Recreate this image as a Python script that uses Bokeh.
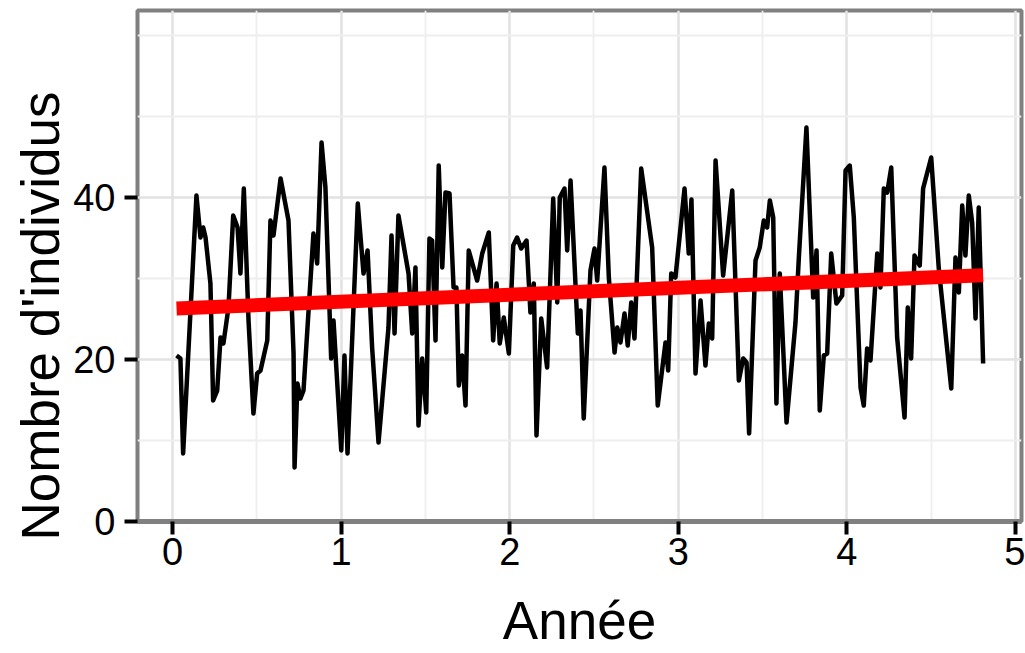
from bokeh.plotting import figure
from bokeh.models import FixedTicker, Range1d, Title
from bokeh.embed import file_html
from bokeh.resources import INLINE

# ---- data ----
annee = [
    0.024, 0.047, 0.063, 0.117, 0.142, 0.166, 0.182, 0.196, 0.225, 0.241,
    0.265, 0.285, 0.302, 0.332, 0.360, 0.386, 0.403, 0.423, 0.451, 0.480,
    0.502, 0.522, 0.562, 0.581, 0.599, 0.641, 0.688, 0.718, 0.724, 0.741,
    0.759, 0.777, 0.836, 0.858, 0.884, 0.907, 0.941, 0.955, 1.001, 1.020,
    1.038, 1.072, 1.099, 1.133, 1.157, 1.184, 1.222, 1.281, 1.299, 1.317,
    1.340, 1.400, 1.422, 1.441, 1.459, 1.481, 1.505, 1.524, 1.540, 1.560,
    1.579, 1.600, 1.619, 1.643, 1.667, 1.684, 1.698, 1.718, 1.738, 1.757,
    1.807, 1.837, 1.876, 1.902, 1.922, 1.941, 1.965, 1.995, 2.021, 2.044,
    2.068, 2.100, 2.123, 2.143, 2.159, 2.187, 2.222, 2.258, 2.282, 2.297,
    2.325, 2.341, 2.361, 2.404, 2.420, 2.439, 2.479, 2.503, 2.519, 2.562,
    2.588, 2.622, 2.638, 2.657, 2.681, 2.700, 2.721, 2.740, 2.780, 2.845,
    2.878, 2.924, 2.940, 2.958, 2.983, 3.037, 3.062, 3.078, 3.102, 3.132,
    3.161, 3.181, 3.201, 3.221, 3.266, 3.320, 3.359, 3.385, 3.405, 3.420,
    3.458, 3.483, 3.507, 3.527, 3.543, 3.563, 3.582, 3.602, 3.642, 3.695,
    3.715, 3.760, 3.800, 3.820, 3.839, 3.863, 3.883, 3.907, 3.938, 3.972,
    3.992, 4.017, 4.041, 4.081, 4.100, 4.120, 4.140, 4.180, 4.199, 4.219,
    4.239, 4.263, 4.298, 4.342, 4.361, 4.381, 4.401, 4.432, 4.452, 4.500,
    4.545, 4.619, 4.644, 4.664, 4.684, 4.703, 4.723, 4.743, 4.763, 4.782,
    4.808,
]
individus = [
    20.49, 20.12, 8.40, 30.12, 40.25, 35.06, 36.30, 35.06, 29.38, 14.94,
    16.17, 22.72, 21.98, 26.42, 37.78, 36.30, 30.62, 41.11, 24.81, 13.33,
    18.27, 18.64, 22.35, 37.16, 35.31, 42.35, 37.16, 20.74, 6.67, 17.04,
    15.19, 16.17, 35.56, 31.85, 46.79, 41.23, 20.12, 24.81, 8.77, 20.49,
    8.40, 25.68, 39.26, 30.62, 33.46, 21.48, 9.75, 23.95, 35.31, 23.21,
    37.78, 30.62, 23.21, 31.36, 11.85, 20.12, 13.46, 34.94, 34.69, 22.35,
    43.95, 31.36, 40.62, 40.49, 28.89, 28.89, 16.79, 20.49, 14.32, 33.46,
    29.75, 33.09, 35.68, 22.35, 29.38, 21.98, 25.19, 20.74, 34.07, 35.06,
    33.70, 34.69, 25.80, 29.38, 10.62, 25.06, 19.01, 39.88, 27.04, 40.00,
    41.11, 33.46, 42.10, 23.21, 26.05, 12.72, 30.99, 33.70, 29.75, 43.70,
    30.12, 20.86, 23.95, 22.10, 25.68, 21.73, 27.04, 22.59, 43.58, 33.83,
    14.32, 22.10, 18.64, 30.62, 30.12, 41.11, 33.09, 39.75, 18.27, 27.28,
    19.26, 24.44, 22.59, 44.57, 30.37, 40.86, 17.41, 20.12, 19.63, 10.86,
    32.22, 33.83, 37.16, 36.30, 39.63, 37.53, 14.57, 30.62, 12.22, 24.57,
    32.59, 48.64, 27.65, 33.46, 13.70, 20.49, 20.74, 33.09, 26.91, 27.90,
    43.33, 43.95, 37.53, 16.54, 14.32, 21.36, 19.88, 33.09, 28.89, 41.11,
    40.62, 43.70, 22.72, 12.84, 26.42, 20.12, 32.84, 31.60, 41.11, 44.94,
    31.23, 16.42, 32.59, 28.27, 39.01, 32.84, 40.25, 36.91, 25.06, 38.77,
    19.51,
]
tendance_annee = [0.024, 4.808]
tendance_individus = [26.3, 30.4]

x_ticks = [0, 1, 2, 3, 4, 5]
x_minor = [0.5, 1.5, 2.5, 3.5, 4.5]
y_ticks = [0, 20, 40]
y_minor = [10, 30, 50, 60]

FONT = "Liberation Sans"

p = figure(width=1025, height=653, output_backend="svg", toolbar_location=None,
           x_range=Range1d(-0.2076, 5.0356), y_range=Range1d(0, 63.09),
           min_border_left=137, min_border_right=4, min_border_top=10,
           min_border_bottom=132, background_fill_color="white",
           border_fill_color="white")

p.line(annee, individus, line_color="black", line_width=4.5, line_join="round")
p.line(tendance_annee, tendance_individus, line_color="#ff0000", line_width=14)

p.xaxis.ticker = FixedTicker(ticks=x_ticks)
p.yaxis.ticker = FixedTicker(ticks=y_ticks)
p.xgrid.ticker = FixedTicker(ticks=x_ticks, minor_ticks=x_minor)
p.ygrid.ticker = FixedTicker(ticks=y_ticks, minor_ticks=y_minor)

for g in (p.xgrid, p.ygrid):
    g.grid_line_color = "#e2e2e2"
    g.grid_line_width = 2.5
    g.minor_grid_line_color = "#eeeeee"
    g.minor_grid_line_width = 1.8

for ax in (p.xaxis, p.yaxis):
    ax.major_tick_line_color = "black"
    ax.major_tick_line_width = 4
    ax.major_tick_out = 13
    ax.major_tick_in = 0
    ax.minor_tick_out = 0
    ax.minor_tick_in = 0
    ax.major_label_text_font = FONT
    ax.major_label_text_font_size = "38px"
    ax.major_label_text_color = "black"

p.xaxis.axis_line_color = "#808080"
p.xaxis.axis_line_width = 5
p.yaxis.axis_line_color = None
p.xaxis.major_label_standoff = 3
p.yaxis.major_label_standoff = 9

p.xaxis.axis_label = "Année"
p.xaxis.axis_label_text_font = FONT
p.xaxis.axis_label_text_font_size = "53px"
p.xaxis.axis_label_text_font_style = "normal"
p.xaxis.axis_label_text_color = "black"
p.xaxis.axis_label_standoff = 23

p.outline_line_color = "#808080"
p.outline_line_width = 4
p.outline_line_alpha = 1

p.add_layout(Title(text="Nombre d'individus", align="left", offset=-19,
                   text_font=FONT, text_font_size="53px",
                   text_font_style="normal", text_color="black", standoff=2),
             "left")

open("out.html", "w").write(file_html(p, INLINE))
